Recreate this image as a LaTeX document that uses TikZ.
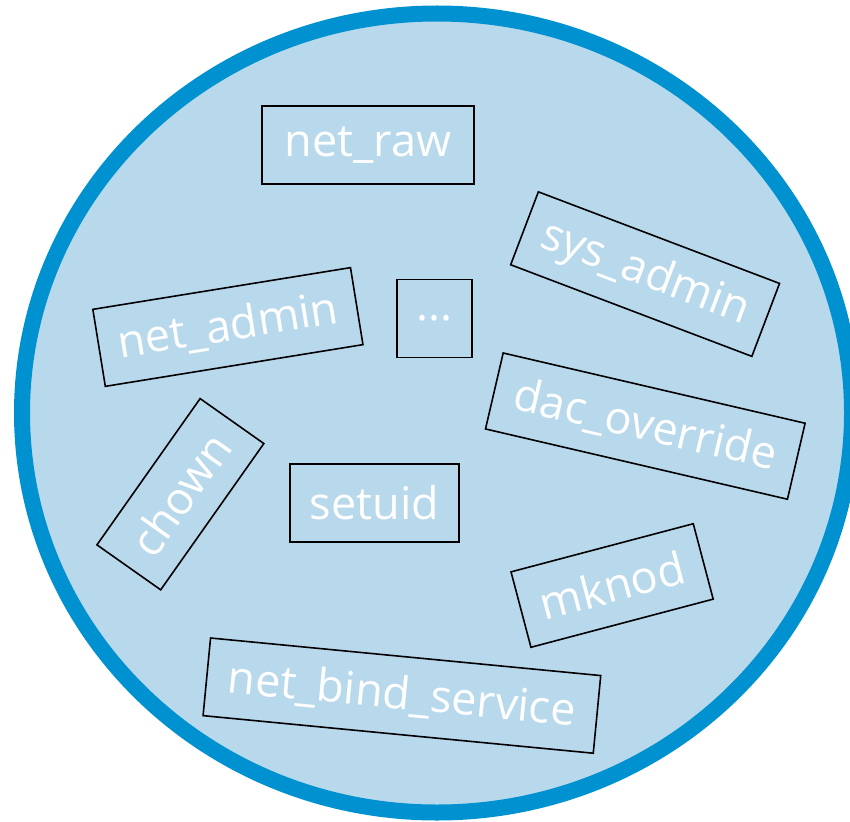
\documentclass[tikz,border=0pt]{standalone}
\usepackage{fontspec}
\setmainfont{Open Sans}
\definecolor{discfill}{RGB}{184,216,236}
\definecolor{discedge}{RGB}{0,146,208}
\begin{document}
\begin{tikzpicture}[x=1pt,y=-1pt,
  capbox/.style={draw=black, line width=1.6pt, rectangle, inner sep=0pt,
    minimum height=78pt, text=white, font=\fontsize{45}{50}\selectfont},
  disc/.style={fill=discfill, draw=discedge, line width=16pt}]
\useasboundingbox (0,0) rectangle (850,821);
\clip (0,0) rectangle (850,821);
\draw[disc] (437,413) ellipse [x radius=415pt, y radius=399.5pt];
\node[capbox, minimum width=212pt] (netraw) at (368,145) {net\_raw};
\node[capbox, minimum width=75pt] (dots) at (434.7,318.6) {...};
\node[capbox, minimum width=169pt] (setuid) at (374.5,503) {setuid};
\node[capbox, minimum width=261pt, rotate=9.2] (netadmin) at (227.9,327) {net\_admin};
\node[capbox, minimum width=258pt, rotate=-20.8] (sysadmin) at (645.1,274.1) {sys\_admin};
\node[capbox, minimum width=310pt, rotate=-13.1] (dac) at (645.3,426.1) {dac\_override};
\node[capbox, minimum width=179pt, rotate=54.8] (chown) at (180.4,494.2) {chown};
\node[capbox, minimum width=188.5pt, rotate=14.8] (mknod) at (612.1,585.5) {mknod};
\node[capbox, minimum width=392pt, rotate=-5.5] (netbind) at (401.9,695.6) {net\_bind\_service};
\end{tikzpicture}
\end{document}
